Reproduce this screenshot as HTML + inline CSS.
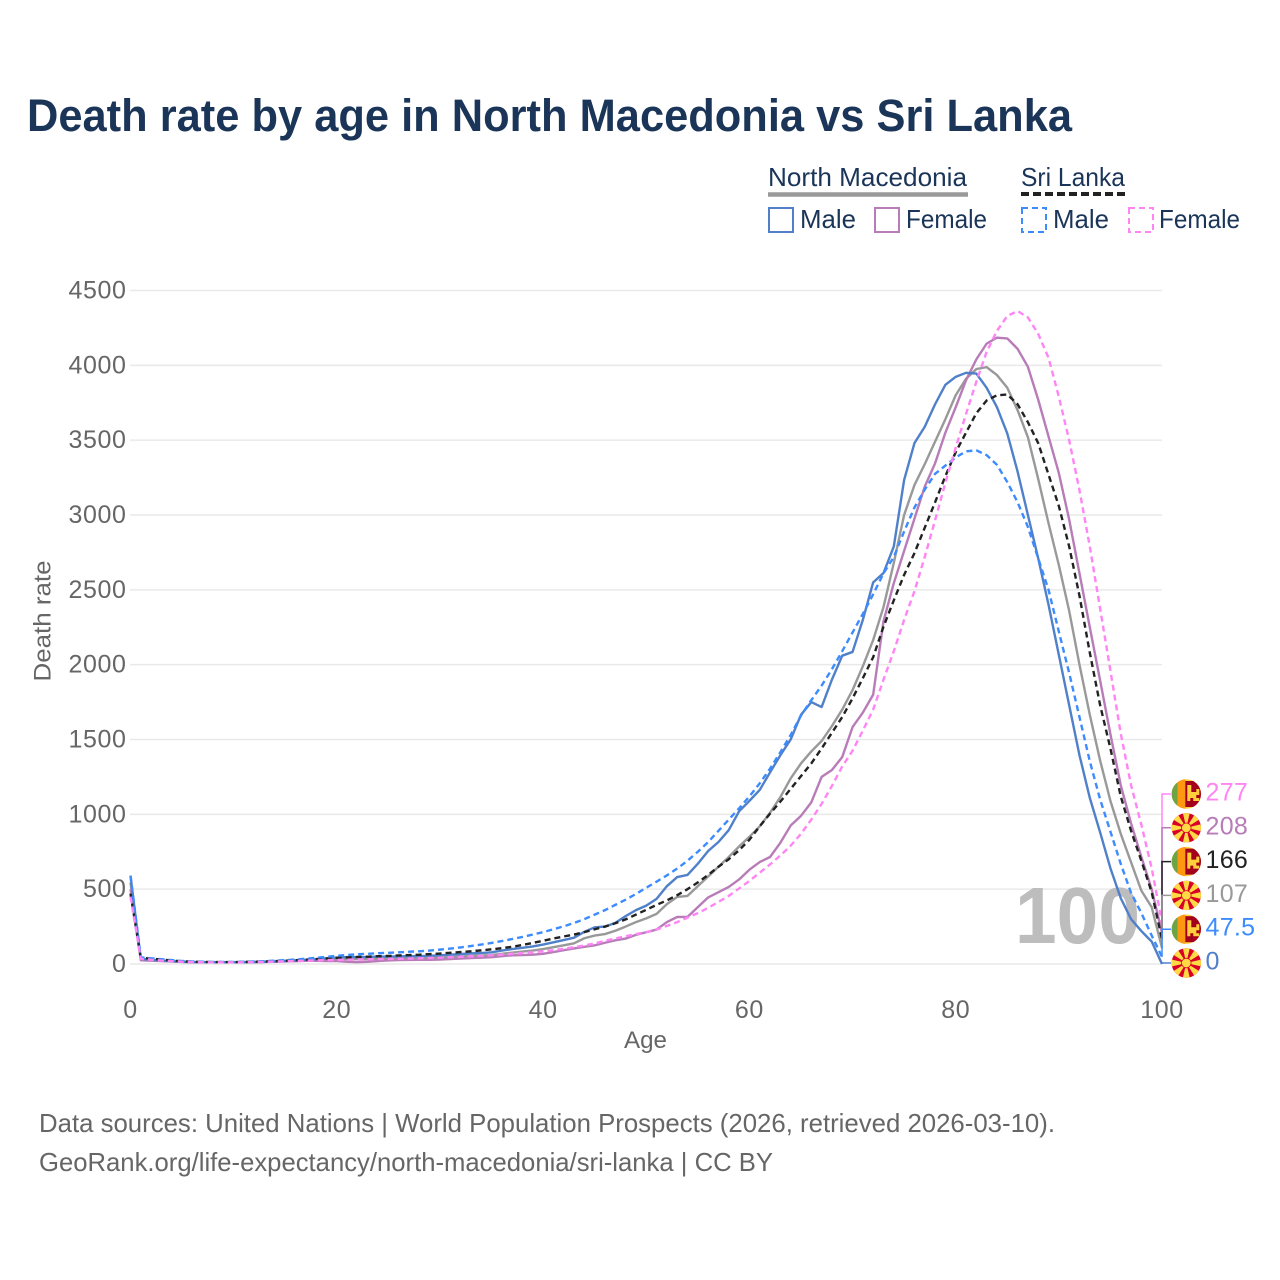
<!DOCTYPE html>
<html lang="en">
<head>
<meta charset="utf-8">
<title>Death rate by age in North Macedonia vs Sri Lanka</title>
<style>
html,body{margin:0;padding:0;background:#fff}
svg{display:block;font-family:"Liberation Sans",sans-serif}
</style>
</head>
<body>
<svg id="chart" xmlns="http://www.w3.org/2000/svg" width="1280" height="1280" viewBox="0 0 1280 1280">
  <defs>
    <clipPath id="flag-clip"><circle cx="0" cy="0" r="14.7"/></clipPath>
    <g id="flag-lk" clip-path="url(#flag-clip)">
      <rect x="-15" y="-15" width="30" height="30" fill="#ffd03c"/>
      <rect x="-15" y="-15" width="6.5" height="30" fill="#6da544"/>
      <rect x="-8.5" y="-15" width="7.5" height="30" fill="#ff9811"/>
      <rect x="-1" y="-13" width="16" height="26" fill="#a2001d"/>
      <path d="M1 -9h4v7h5v-3h3v6h-3v3h3v3h-6v-3h-3v3h-3z" fill="#ffd03c"/>
    </g>
    <g id="flag-mk" clip-path="url(#flag-clip)">
      <rect x="-15" y="-15" width="30" height="30" fill="#d80027"/>
      <path d="M-3.500 -15H3.500L0 0z M-3.500 15H3.500L0 0z M-15 -3.500V3.500L0 0z M15 -3.500V3.500L0 0z M-15 -9.500L-9.500 -15L0 0z M15 9.500L9.500 15L0 0z M9.500 -15L15 -9.500L0 0z M-9.500 15L-15 9.500L0 0z" fill="#ffda44"/>
      <circle r="5.200" fill="#d80027"/>
      <circle r="4.400" fill="#ffda44"/>
    </g>
  </defs>

  <text x="27" y="131" font-size="45" font-weight="700" fill="#1a3558" textLength="1045" lengthAdjust="spacingAndGlyphs">Death rate by age in North Macedonia vs Sri Lanka</text>

  <g font-size="26" fill="#1a3558">
    <text x="768" y="186" textLength="199" lengthAdjust="spacingAndGlyphs">North Macedonia</text>
    <line x1="768" x2="968" y1="194.500" y2="194.500" stroke="#999" stroke-width="4.500"/>
    <text x="1021" y="186" textLength="104" lengthAdjust="spacingAndGlyphs">Sri Lanka</text>
    <line x1="1021" x2="1125" y1="194" y2="194" stroke="#222" stroke-width="4" stroke-dasharray="8 4"/>
    <rect x="769" y="208" width="24" height="24" fill="none" stroke="#4f80c9" stroke-width="2"/>
    <text x="800" y="228" textLength="56" lengthAdjust="spacingAndGlyphs">Male</text>
    <rect x="875" y="208" width="24" height="24" fill="none" stroke="#b87cb8" stroke-width="2"/>
    <text x="906" y="228" textLength="81" lengthAdjust="spacingAndGlyphs">Female</text>
    <rect x="1022" y="208" width="24" height="24" fill="none" stroke="#3c8bff" stroke-width="2" stroke-dasharray="6 4"/>
    <text x="1053" y="228" textLength="56" lengthAdjust="spacingAndGlyphs">Male</text>
    <rect x="1129" y="208" width="24" height="24" fill="none" stroke="#ff85f5" stroke-width="2" stroke-dasharray="6 4"/>
    <text x="1159" y="228" textLength="81" lengthAdjust="spacingAndGlyphs">Female</text>
  </g>

  <g id="grid"></g>
  <g id="yticks" font-size="25" fill="#666" text-anchor="end" letter-spacing="0.6"></g>
  <g id="xticks" font-size="25" fill="#666" text-anchor="middle" letter-spacing="0.6"></g>

  <text transform="translate(50.5,621) rotate(-90)" font-size="24" fill="#666" text-anchor="middle" textLength="121" lengthAdjust="spacingAndGlyphs">Death rate</text>
  <text x="624" y="1048" font-size="24" fill="#666" textLength="43" lengthAdjust="spacingAndGlyphs">Age</text>

  <text x="1015" y="943" font-size="80" font-weight="700" fill="#bdbdbd" textLength="125" lengthAdjust="spacingAndGlyphs">100</text>

  <g id="series" fill="none" stroke-linejoin="round"></g>
  <g id="leaders" fill="none" stroke-width="1.500"></g>
  <g id="endlabels" font-size="25"></g>

  <g font-size="26" fill="#666">
    <text x="39" y="1132" textLength="1016" lengthAdjust="spacingAndGlyphs">Data sources: United Nations | World Population Prospects (2026, retrieved 2026-03-10).</text>
    <text x="39" y="1171" textLength="734" lengthAdjust="spacingAndGlyphs">GeoRank.org/life-expectancy/north-macedonia/sri-lanka | CC BY</text>
  </g>
</svg>

<script>
var ages = [0,1,2,3,4,5,6,7,8,9,10,11,12,13,14,15,16,17,18,19,20,21,22,23,24,25,26,27,28,29,30,31,32,33,34,35,36,37,38,39,40,41,42,43,44,45,46,47,48,49,50,51,52,53,54,55,56,57,58,59,60,61,62,63,64,65,66,67,68,69,70,71,72,73,74,75,76,77,78,79,80,81,82,83,84,85,86,87,88,89,90,91,92,93,94,95,96,97,98,99,100];
var northMacedoniaTotal = [545,30,25,21,17,14,12,11,11,11,11,12,13,14,16,19,22,26,29,31,33,33,32,33,35,36,37,38,39,40,43,46,50,54,56,60,68,76,83,90,100,112,125,138,172,190,200,222,250,280,305,335,400,448,455,520,585,650,715,785,850,920,1010,1115,1240,1340,1420,1490,1590,1700,1830,1990,2165,2385,2680,3000,3200,3340,3490,3640,3800,3910,3975,3988,3935,3850,3700,3520,3240,2945,2665,2360,2000,1665,1360,1090,870,680,490,380,107];
var northMacedoniaFemale = [500,25,22,20,17,14,12,11,11,11,11,12,13,14,15,17,19,21,21,20,20,15,12,15,20,24,26,27,28,28,30,33,36,40,42,46,52,58,60,62,68,80,92,104,115,125,142,158,170,195,212,230,280,314,315,380,445,480,515,565,630,681,715,810,925,990,1080,1250,1296,1383,1583,1680,1800,2290,2545,2760,2975,3190,3345,3550,3720,3900,4040,4145,4185,4180,4110,3990,3770,3525,3280,2970,2610,2250,1895,1535,1195,940,715,500,208];
var northMacedoniaMale = [590,35,28,23,19,15,13,12,12,12,12,12,13,15,17,20,24,28,32,38,43,46,46,47,50,50,51,52,53,55,58,62,66,71,73,78,90,100,108,117,130,145,160,176,215,245,250,275,320,360,390,435,520,581,595,670,755,815,895,1020,1090,1163,1280,1395,1500,1665,1750,1717,1900,2060,2085,2300,2550,2612,2790,3234,3480,3590,3740,3870,3923,3950,3945,3850,3720,3545,3290,3000,2710,2400,2065,1730,1395,1110,880,640,440,300,220,150,0];
var sriLankaTotal = [470,42,35,30,24,18,15,14,13,13,13,14,15,17,19,22,25,29,33,37,41,44,47,49,52,54,57,60,62,66,70,75,80,85,91,98,106,115,127,141,155,170,184,197,213,232,250,272,298,330,362,395,425,460,500,545,595,650,700,760,830,920,1005,1085,1170,1255,1340,1440,1545,1650,1775,1910,2050,2254,2430,2600,2745,2915,3085,3260,3420,3550,3680,3765,3800,3805,3740,3620,3480,3270,3060,2790,2460,2080,1730,1440,1120,890,690,480,166];
var sriLankaMale = [590,45,38,32,26,20,17,15,14,14,14,15,17,19,22,26,30,35,42,48,55,60,65,68,72,75,78,82,85,90,96,103,111,120,130,141,153,167,181,197,213,232,252,274,300,330,360,395,430,468,510,550,592,638,690,750,815,890,965,1040,1120,1207,1305,1415,1530,1660,1763,1860,1970,2090,2215,2340,2470,2610,2720,2890,3050,3170,3275,3330,3385,3425,3432,3400,3335,3220,3085,2920,2710,2500,2220,1945,1650,1355,1100,885,670,475,340,190,47.5];
var sriLankaFemale = [450,35,28,23,19,15,13,12,11,11,11,12,13,14,16,18,20,22,24,26,27,29,30,31,33,34,35,36,38,40,42,45,48,51,54,58,63,68,73,78,85,93,102,112,124,137,155,170,185,200,212,230,255,280,310,340,375,415,455,505,555,610,665,725,790,870,965,1070,1190,1320,1425,1560,1700,1900,2090,2300,2490,2720,2965,3215,3450,3675,3890,4090,4230,4330,4363,4320,4210,4050,3790,3500,3165,2790,2375,1960,1540,1195,930,640,277];
var yTickValues = [0,500,1000,1500,2000,2500,3000,3500,4000,4500];
var yTickLabels = ["0","500","1000","1500","2000","2500","3000","3500","4000","4500"];
var xTickValues = [0,20,40,60,80,100];
var xTickLabels = ["0","20","40","60","80","100"];

var NS = 'http://www.w3.org/2000/svg';
function xScale(age){ return 130.5 + (age - 0) * (1162 - 130.5) / 100; }
function yScale(v){ return 964 - v * (964 - 290.5) / 4500; }
function make(tag, parent, attrs){
  var el = document.createElementNS(NS, tag);
  for (var k in attrs) el.setAttribute(k, attrs[k]);
  parent.appendChild(el);
  return el;
}

var gridG = document.getElementById('grid');
var yG = document.getElementById('yticks');
yTickValues.forEach(function(v, i){
  var y = yScale(v);
  var ln = make('line', gridG, {x1: 130, x2: 1162, y1: y, y2: y, stroke: '#e9e9e9', 'stroke-width': 1.5});
  
  
  var t = make('text', yG, {x: 126.5, y: y + 8});
  
  
  t.textContent = yTickLabels[i];
});

var xG = document.getElementById('xticks');
xTickValues.forEach(function(v, i){
  var t = make('text', xG, {x: xScale(v), y: 1018});
  
  
  t.textContent = xTickLabels[i];
});

var seriesG = document.getElementById('series');
function drawLine(values, color, dash, name){
  var d = values.map(function(v, i){
    return (i ? 'L' : 'M') + xScale(ages[i]).toFixed(2) + ' ' + yScale(v).toFixed(2);
  }).join('');
  var p = make('path', seriesG, {d: d, stroke: color, 'stroke-width': 2.4});
  if (dash) p.setAttribute('stroke-dasharray', dash);
  
  
}
drawLine(northMacedoniaTotal, '#999999', '', 'line-north-macedonia-total');
drawLine(northMacedoniaFemale, '#b87cb8', '', 'line-north-macedonia-female');
drawLine(northMacedoniaMale, '#4f80c9', '', 'line-north-macedonia-male');
drawLine(sriLankaTotal, '#222222', '6 4', 'line-sri-lanka-total');
drawLine(sriLankaMale, '#3c8bff', '6 4', 'line-sri-lanka-male');
drawLine(sriLankaFemale, '#ff85f5', '6 4', 'line-sri-lanka-female');

var leadersG = document.getElementById('leaders');
var labelsG = document.getElementById('endlabels');
function drawEnd(values, color, flag, row, name){
  var last = values[values.length - 1];
  var rowY = 794 + row * 33.8;
  var endY = yScale(last);
  var lead = make('path', leadersG, {d: 'M1162 ' + endY.toFixed(2) + 'V' + rowY.toFixed(2) + 'H1171', stroke: color});
  
  
  var u = make('use', labelsG, {href: '#' + flag, transform: 'translate(1186.3,' + rowY.toFixed(2) + ')'});
  
  
  var t = make('text', labelsG, {x: 1205.5, y: (rowY + 6.5).toFixed(2), fill: color, 'letter-spacing': 0.3});
  
  
  t.textContent = String(last);
}
drawEnd(sriLankaFemale, '#ff85f5', 'flag-lk', 0, 'sri-lanka-female');
drawEnd(northMacedoniaFemale, '#b87cb8', 'flag-mk', 1, 'north-macedonia-female');
drawEnd(sriLankaTotal, '#222222', 'flag-lk', 2, 'sri-lanka-total');
drawEnd(northMacedoniaTotal, '#999999', 'flag-mk', 3, 'north-macedonia-total');
drawEnd(sriLankaMale, '#3c8bff', 'flag-lk', 4, 'sri-lanka-male');
drawEnd(northMacedoniaMale, '#4f80c9', 'flag-mk', 5, 'north-macedonia-male');
</script>
</body>
</html>
